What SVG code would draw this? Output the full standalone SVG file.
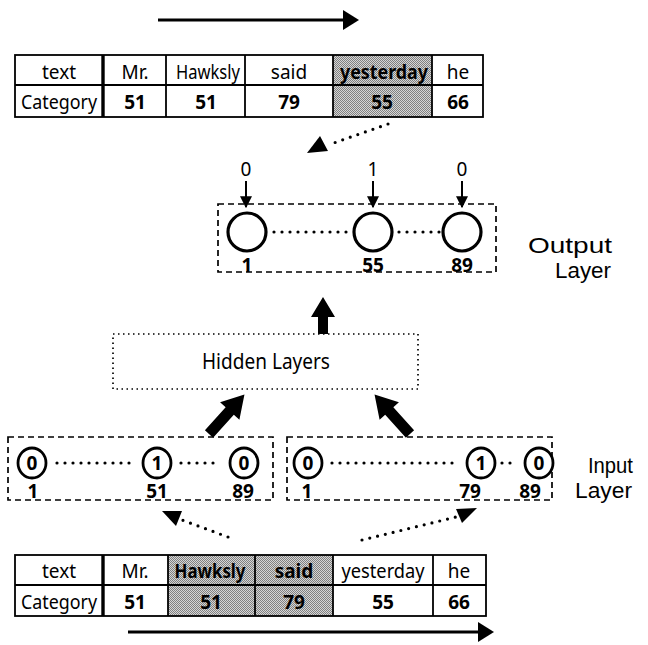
<svg xmlns="http://www.w3.org/2000/svg" width="648" height="645" viewBox="0 0 648 645">
  <defs>
    <pattern id="halftone" width="2" height="2" patternUnits="userSpaceOnUse">
      <rect width="2" height="2" fill="#d6d6d6"/>
      <rect width="1" height="1" fill="#808080"/>
      <rect x="1" y="1" width="1" height="1" fill="#808080"/>
    </pattern>
    <marker id="tip" viewBox="0 0 10 10" refX="9" refY="5" markerWidth="6" markerHeight="6" orient="auto" markerUnits="strokeWidth">
      <path d="M0,0 L10,5 L0,10 Z" fill="#000"/>
    </marker>
  </defs>
  <style>
    text { font-family: "Noto Sans", "Open Sans", sans-serif; fill: #000; }
    .cell { font-size: 19px; text-anchor: middle; }
    .b { font-weight: bold; }
    .grid { fill: none; stroke: #000; stroke-width: 1.8; }
    .thick { stroke: #000; stroke-width: 3.4; }
    .dash { fill: none; stroke: #000; stroke-width: 1.7; stroke-dasharray: 6 4; }
    .hid { fill: none; stroke: #000; stroke-width: 1.7; stroke-dasharray: 1.5 3.5; }
    .dots { fill: none; stroke: #000; stroke-width: 3.2; stroke-linecap: round; stroke-dasharray: 0 8; }
    .onode { fill: #fff; stroke: #000; stroke-width: 3.2; }
    .inode { fill: #fff; stroke: #000; stroke-width: 2.8; }
    .lbl { font-size: 19px; text-anchor: middle; }
    .big { fill: #000; }
    .layer { font-family: "Liberation Sans", Arial, sans-serif; font-size: 22px; }
  </style>

  <!-- direction arrows above and below the sentence tables -->
  <g id="dir-top">
    <line x1="158" y1="20" x2="345" y2="20" stroke="#000" stroke-width="3"/>
    <path d="M343,10 L359,20 L343,30 Z" fill="#000"/>
  </g>
  <g id="dir-bottom">
    <line x1="128" y1="632" x2="480" y2="632" stroke="#000" stroke-width="3"/>
    <path d="M478,622 L494,632 L478,642 Z" fill="#000"/>
  </g>

  <!-- output-side sentence table -->
  <g id="table-top">
    <rect x="333" y="55" width="99" height="62" fill="url(#halftone)"/>
    <rect class="grid" x="15" y="55" width="468" height="62"/>
    <line class="grid" x1="15" y1="85" x2="483" y2="85"/>
    <line class="thick" x1="103" y1="55" x2="103" y2="117"/>
    <line class="grid" x1="166" y1="55" x2="166" y2="117"/>
    <line class="grid" x1="245" y1="55" x2="245" y2="117"/>
    <line class="grid" x1="333" y1="55" x2="333" y2="117"/>
    <line class="grid" x1="432" y1="55" x2="432" y2="117"/>
    <text class="cell" x="59" y="79">text</text>
    <text class="cell" x="135" y="79">Mr.</text>
    <text class="cell" x="208" y="79" textLength="64" lengthAdjust="spacingAndGlyphs">Hawksly</text>
    <text class="cell" x="289" y="79">said</text>
    <text class="cell b" x="384" y="79" textLength="88" lengthAdjust="spacingAndGlyphs">yesterday</text>
    <text class="cell" x="458" y="79">he</text>
    <text class="cell" x="59" y="109" textLength="76" lengthAdjust="spacingAndGlyphs">Category</text>
    <text class="cell b" x="135" y="109">51</text>
    <text class="cell b" x="206" y="109">51</text>
    <text class="cell b" x="289" y="109">79</text>
    <text class="cell b" x="382" y="109">55</text>
    <text class="cell b" x="458" y="109">66</text>
  </g>

  <!-- output layer -->
  <g id="output-layer">
    <rect class="dash" x="218" y="204" width="278" height="68"/>
    <line class="dots" x1="274" y1="232" x2="350" y2="232"/>
    <line class="dots" x1="399" y1="232" x2="440" y2="232"/>
    <circle class="onode" cx="247" cy="232" r="19"/>
    <circle class="onode" cx="373" cy="232" r="19"/>
    <circle class="onode" cx="462" cy="232" r="19"/>
    <text class="lbl" x="246" y="176">0</text>
    <text class="lbl" x="373" y="176">1</text>
    <text class="lbl" x="462" y="176">0</text>
    <text class="lbl b" x="247" y="272">1</text>
    <text class="lbl b" x="373" y="272">55</text>
    <text class="lbl b" x="462" y="272">89</text>
    <text class="layer" x="528" y="253" textLength="84" lengthAdjust="spacingAndGlyphs">Output</text>
    <text class="layer" x="555" y="278" textLength="56" lengthAdjust="spacingAndGlyphs">Layer</text>
  </g>

  <!-- hidden layers -->
  <g id="hidden-layers">
    <rect class="hid" x="113" y="334" width="305" height="55"/>
    <text x="202" y="369" font-size="22" textLength="128" lengthAdjust="spacingAndGlyphs">Hidden Layers</text>
  </g>

  <!-- input window on the left word -->
  <g id="input-left">
    <rect class="dash" x="8" y="437" width="265" height="63"/>
    <line class="dots" x1="57" y1="463" x2="136" y2="463"/>
    <line class="dots" x1="181" y1="463" x2="221" y2="463"/>
    <ellipse class="inode" cx="32" cy="463" rx="14" ry="15"/>
    <ellipse class="inode" cx="157" cy="463" rx="14" ry="15"/>
    <ellipse class="inode" cx="244" cy="463" rx="14" ry="15"/>
    <text class="lbl b" x="32" y="470">0</text>
    <text class="lbl b" x="157" y="470">1</text>
    <text class="lbl b" x="244" y="470">0</text>
    <text class="lbl b" x="33" y="498">1</text>
    <text class="lbl b" x="157" y="498">51</text>
    <text class="lbl b" x="243" y="498">89</text>
  </g>

  <!-- input window on the right word -->
  <g id="input-right">
    <rect class="dash" x="287" y="437" width="265" height="63"/>
    <line class="dots" x1="332" y1="463" x2="459" y2="463"/>
    <line class="dots" x1="502" y1="463" x2="518" y2="463"/>
    <ellipse class="inode" cx="308" cy="463" rx="14" ry="15"/>
    <ellipse class="inode" cx="481" cy="463" rx="14" ry="15"/>
    <ellipse class="inode" cx="539" cy="463" rx="14" ry="15"/>
    <text class="lbl b" x="308" y="470">0</text>
    <text class="lbl b" x="481" y="470">1</text>
    <text class="lbl b" x="539" y="470">0</text>
    <text class="lbl b" x="307" y="498">1</text>
    <text class="lbl b" x="470" y="498">79</text>
    <text class="lbl b" x="530" y="498">89</text>
    <text class="layer" x="588" y="473" textLength="45" lengthAdjust="spacingAndGlyphs">Input</text>
    <text class="layer" x="575" y="498" textLength="57" lengthAdjust="spacingAndGlyphs">Layer</text>
  </g>

  <!-- input-side sentence table -->
  <g id="table-bottom">
    <rect x="168" y="555" width="165" height="61" fill="url(#halftone)"/>
    <rect class="grid" x="15" y="555" width="471" height="61"/>
    <line class="grid" x1="15" y1="585" x2="486" y2="585"/>
    <line class="thick" x1="103" y1="555" x2="103" y2="616"/>
    <line class="grid" x1="168" y1="555" x2="168" y2="616"/>
    <line class="grid" x1="255" y1="555" x2="255" y2="616"/>
    <line class="grid" x1="333" y1="555" x2="333" y2="616"/>
    <line class="grid" x1="433" y1="555" x2="433" y2="616"/>
    <text class="cell" x="59" y="578">text</text>
    <text class="cell" x="135" y="578">Mr.</text>
    <text class="cell b" x="210" y="578" textLength="71" lengthAdjust="spacingAndGlyphs">Hawksly</text>
    <text class="cell b" x="294" y="578">said</text>
    <text class="cell" x="383" y="578" textLength="83" lengthAdjust="spacingAndGlyphs">yesterday</text>
    <text class="cell" x="459" y="578">he</text>
    <text class="cell" x="59" y="609" textLength="76" lengthAdjust="spacingAndGlyphs">Category</text>
    <text class="cell b" x="135" y="609">51</text>
    <text class="cell b" x="211" y="609">51</text>
    <text class="cell b" x="294" y="609">79</text>
    <text class="cell b" x="383" y="609">55</text>
    <text class="cell b" x="459" y="609">66</text>
  </g>

  <!-- connectors -->
  <g id="connectors">
    <!-- target word feeds the output units -->
    <line class="dots" x1="388" y1="124" x2="328" y2="145"/>
    <path d="M307,153 L320,136 L328,151 Z" fill="#000"/>
    <!-- target values into output units -->
    <line x1="246" y1="181" x2="246" y2="207" stroke="#000" stroke-width="2" marker-end="url(#tip)"/>
    <line x1="373" y1="181" x2="373" y2="207" stroke="#000" stroke-width="2" marker-end="url(#tip)"/>
    <line x1="462" y1="181" x2="462" y2="207" stroke="#000" stroke-width="2" marker-end="url(#tip)"/>
    <!-- hidden layers to output -->
    <path class="big" d="M318,334 L318,317 L311,317 L323,297 L335,317 L328,317 L328,334 Z"/>
    <!-- inputs to hidden layers -->
    <path class="big" d="M0,-5.5 L31,-5.5 L31,-13 L53,0 L31,13 L31,5.5 L0,5.5 Z" transform="translate(209,434) rotate(-48)"/>
    <path class="big" d="M0,-5.5 L31,-5.5 L31,-13 L53,0 L31,13 L31,5.5 L0,5.5 Z" transform="translate(410,434) rotate(-132)"/>
    <!-- words to input windows -->
    <line class="dots" x1="228" y1="537" x2="182" y2="520"/>
    <path d="M162,511 L182,511 L176,526 Z" fill="#000"/>
    <line class="dots" x1="362" y1="540" x2="456" y2="517"/>
    <path d="M477,508 L462,523 L456,509 Z" fill="#000"/>
  </g>
</svg>
